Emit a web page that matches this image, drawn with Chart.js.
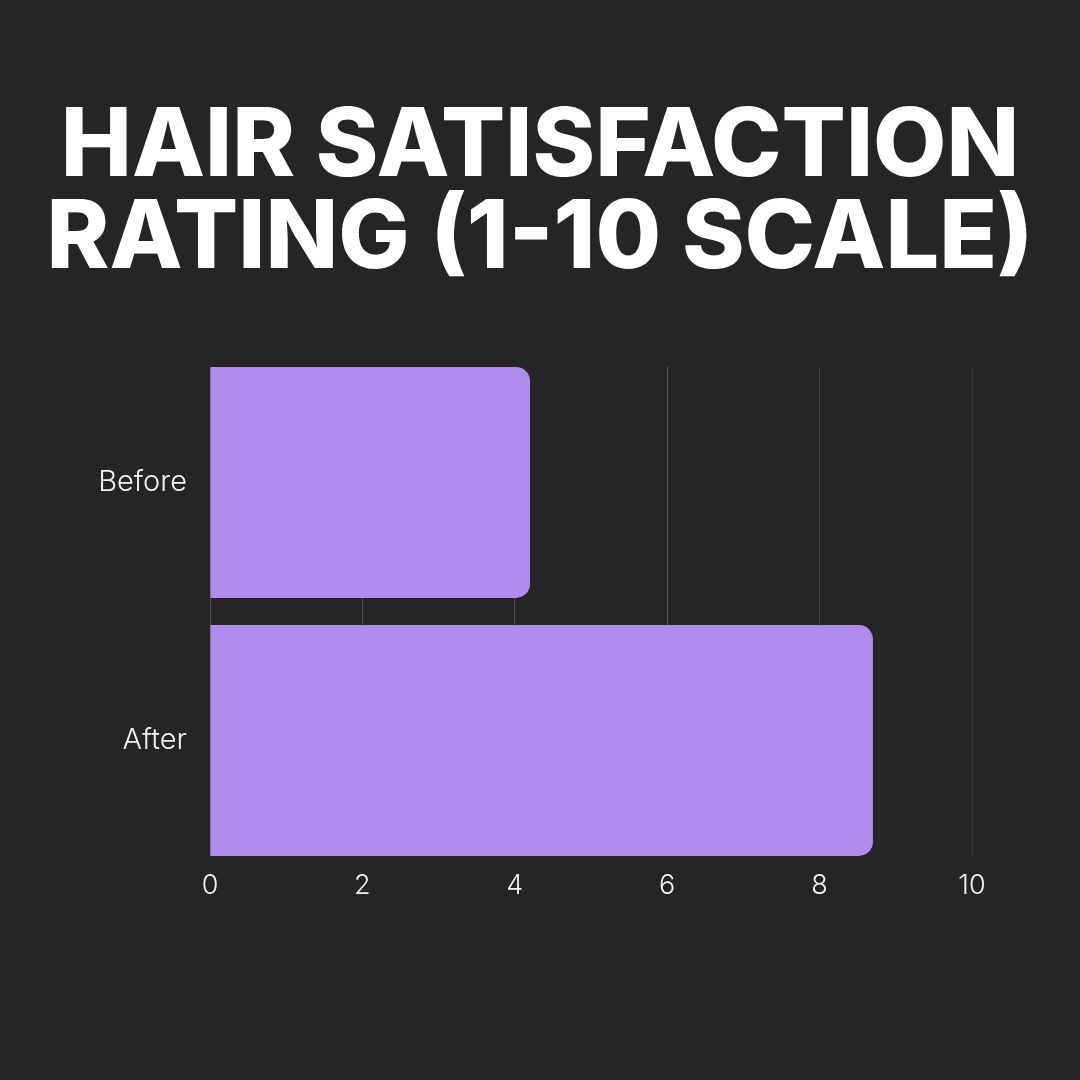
<!DOCTYPE html>
<html lang="en">
<head>
  <meta charset="UTF-8" />
  <title>Hair Satisfaction Rating</title>
  <script src="https://cdn.jsdelivr.net/npm/chart.js"></script>
  <style>
    body {
      margin: 0;
      background: #252527;
      width: 1080px;
      height: 1080px;
      overflow: hidden;
      position: relative;
      font-family: 'Inter', sans-serif;
    }

    #title {
      position: absolute;
      top: 96px;
      left: 0;
      width: 1080px;
      text-align: center;
      color: #fff;
      font-weight: 800;
      font-size: 95px;
      line-height: 92px;
    }

    #wrap {
      position: absolute;
      left: 0;
      top: 0;
      width: 1080px;
      height: 1080px;
    }
  </style>
</head>
<body>
  <div id="title">HAIR SATISFACTION<br>RATING (1-10 SCALE)</div>
  <div id="wrap"><canvas id="chart"></canvas></div>

  <script>
    const labels = ['Before', 'After'];
    const ratings = [4.2, 8.7];
    const xTicks = [0, 2, 4, 6, 8, 10];
    // grid lines fade a little from left to right in the original
    const gridColors = ['#4e4e50', '#4a4a4c', '#4a4a4c', '#58585a', '#454547', '#38383a'];

    // linear index axis so the two bars can sit flush with the plot edges
    const points = ratings.map((v, i) => ({ x: v, y: i }));

    const chart = new Chart(document.getElementById('chart'), {
      type: 'bar',
      data: {
        datasets: [{
          data: points,
          backgroundColor: '#b08dec',
          borderRadius: 14,
          categoryPercentage: 1,
          barPercentage: 0.895
        }]
      },
      options: {
        indexAxis: 'y',
        responsive: true,
        maintainAspectRatio: false,
        animation: false,
        layout: { padding: { left: 20, right: 108, top: 367, bottom: 164 } },
        plugins: {
          legend: { display: false },
          tooltip: { enabled: false }
        },
        scales: {
          x: {
            type: 'linear',
            min: 0,
            max: 10,
            afterFit: s => { s.height = 60; },
            afterBuildTicks: s => { s.ticks = xTicks.map(v => ({ value: v })); },
            grid: { color: c => gridColors[c.index] || '#444446', drawTicks: false, lineWidth: 1 },
            border: { display: false },
            ticks: { color: '#f2f2f2', font: { family: 'Inter', size: 27, weight: 300 }, padding: 14 }
          },
          y: {
            type: 'linear',
            offset: false,
            reverse: true,
            min: -0.4477,
            max: 1.4477,
            afterFit: s => { s.width = 190; },
            afterBuildTicks: s => { s.ticks = labels.map((l, i) => ({ value: i })); },
            grid: { display: false, drawTicks: false, offset: false },
            border: { display: false },
            ticks: {
              color: '#f2f2f2',
              font: { family: 'Inter', size: 29, weight: 300 },
              padding: 23,
              callback: v => labels[v]
            }
          }
        }
      }
    });
  </script>
</body>
</html>
